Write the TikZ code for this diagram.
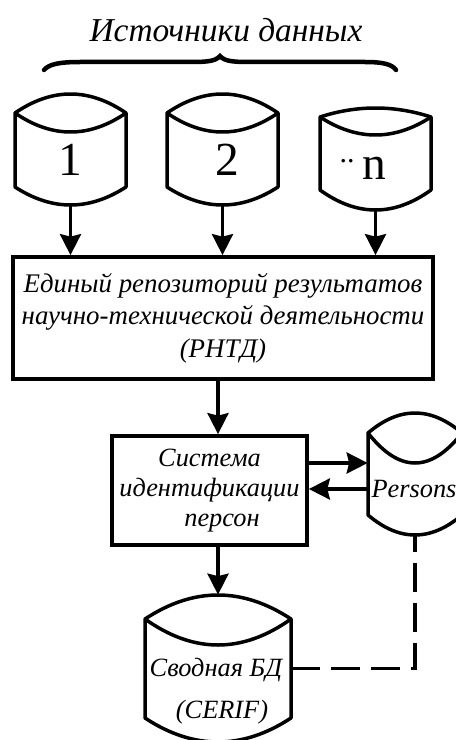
\documentclass[tikz,border=0pt]{standalone}
\usepackage{fontspec}
\setmainfont{Liberation Serif}
\usetikzlibrary{arrows.meta}
\tikzset{
  dbline/.style={line width=0.07cm, line join=round},
  boxnode/.style={draw, line width=0.075cm, inner sep=0pt, align=center},
  flow/.style={line width=0.07cm, -{Stealth[length=0.42cm, width=0.42cm, inset=0.05cm]}},
  link/.style={line width=0.07cm, dash pattern=on 0.58cm off 0.22cm}
}
% left, right, apex, corner, lower curve, bottom corner, bottom apex (in px of the picture)
\newcommand{\dbshape}[8]{
  \pgfmathsetmacro\dbw{#3-#2}
  \pgfmathsetmacro\dbh{#8-#4}
  \pgfmathsetmacro\dbcx{(#2+#3)/2}
  \pgfmathsetmacro\dbcy{(#4+#8)/2}
  \pgfmathsetmacro\dbxa{#2+\dbw/3}
  \pgfmathsetmacro\dbxb{#3-\dbw/3}
  \pgfmathsetmacro\dbya{#5-(#5-#4)*4/3}
  \pgfmathsetmacro\dbyb{#5+(#6-#5)*4/3}
  \pgfmathsetmacro\dbyc{#7+(#8-#7)*4/3}
  \node [inner sep=0pt, minimum width=\dbw*0.02cm, minimum height=\dbh*0.02cm] (#1) at (\dbcx, \dbcy) {};
  \draw [dbline] (#2, #5) .. controls (\dbxa, \dbya) and (\dbxb, \dbya) .. (#3, #5)
    -- (#3, #7) .. controls (\dbxb, \dbyc) and (\dbxa, \dbyc) .. (#2, #7) -- cycle;
  \draw [dbline] (#2, #5) .. controls (\dbxa, \dbyb) and (\dbxb, \dbyb) .. (#3, #5);
}
\begin{document}
\begin{tikzpicture}[x=0.02cm, y=-0.02cm]
  \useasboundingbox (0, 0) rectangle (456, 740);

  \node (title) at (226, 30) {\fontsize{19pt}{24pt}\selectfont\itshape Источники данных};
  \draw [line width=0.09cm, line cap=round] (44, 70) .. controls (49, 64) and (60, 62) .. (80, 62)
    -- (185, 62) .. controls (205, 62) and (215, 62) .. (220, 56)
    .. controls (225, 62) and (235, 62) .. (255, 62)
    -- (365, 62) .. controls (382, 62) and (392, 64) .. (396, 70);

  \dbshape{dbone}{15}{126}{94}{113}{132}{187}{205}
  \dbshape{dbtwo}{167}{278}{94}{113}{132}{187}{205}
  \dbshape{dbn}{320}{431}{108}{117}{135}{190}{210}
  \dbshape{persons}{368}{462}{413}{433}{463}{515}{535}
  \dbshape{svod}{145}{291}{595}{619}{645}{718}{742}

  \node (dbonetext) at (70, 160) {\fontsize{27pt}{28pt}\selectfont 1};
  \node (dbtwotext) at (227, 160) {\fontsize{27pt}{28pt}\selectfont 2};
  \node (dbntext) at (363, 168) {\fontsize{27pt}{28pt}\selectfont\raisebox{0.34cm}{\fontsize{17pt}{18pt}\selectfont ..}\,n};
  \node (personstext) at (414, 489) {\fontsize{15pt}{18pt}\selectfont\itshape Persons};
  \node (svodtext) at (216, 670) {\fontsize{15pt}{18pt}\selectfont\itshape Сводная БД};
  \node (ceriftext) at (222, 712) {\fontsize{15pt}{18pt}\selectfont\itshape (CERIF)};

  \node [boxnode, minimum width=8.40cm, minimum height=2.44cm, font=\fontsize{15.3pt}{18.5pt}\selectfont\itshape] (repo) at (223, 318)
    {Единый репозиторий результатов\\научно-технической деятельности\\(РНТД)};
  \node [boxnode, minimum width=3.90cm, minimum height=2.18cm, font=\fontsize{15pt}{17.3pt}\selectfont\itshape] (ident) at (209.5, 490.5)
    {Система\\идентификации\\\hspace*{0.5cm}персон};

  \draw [flow] (dbone.south) -- (dbone.south |- repo.north);
  \draw [flow] (dbtwo.south) -- (dbtwo.south |- repo.north);
  \draw [flow] (dbn.south) -- (dbn.south |- repo.north);
  \draw [flow] (svod.north |- repo.south) -- (svod.north |- ident.north);
  \draw [flow] (svod.north |- ident.south) -- (svod.north);

  \coordinate (personsin) at (persons.west |- 0, 463);
  \coordinate (personsout) at (persons.west |- 0, 489);
  \draw [flow] (personsin -| ident.east) -- (personsin);
  \draw [flow] (personsout) -- (personsout -| ident.east);

  \draw [link] (svod.east) -- (persons.south |- svod.east) -- (persons.south);
\end{tikzpicture}
\end{document}
